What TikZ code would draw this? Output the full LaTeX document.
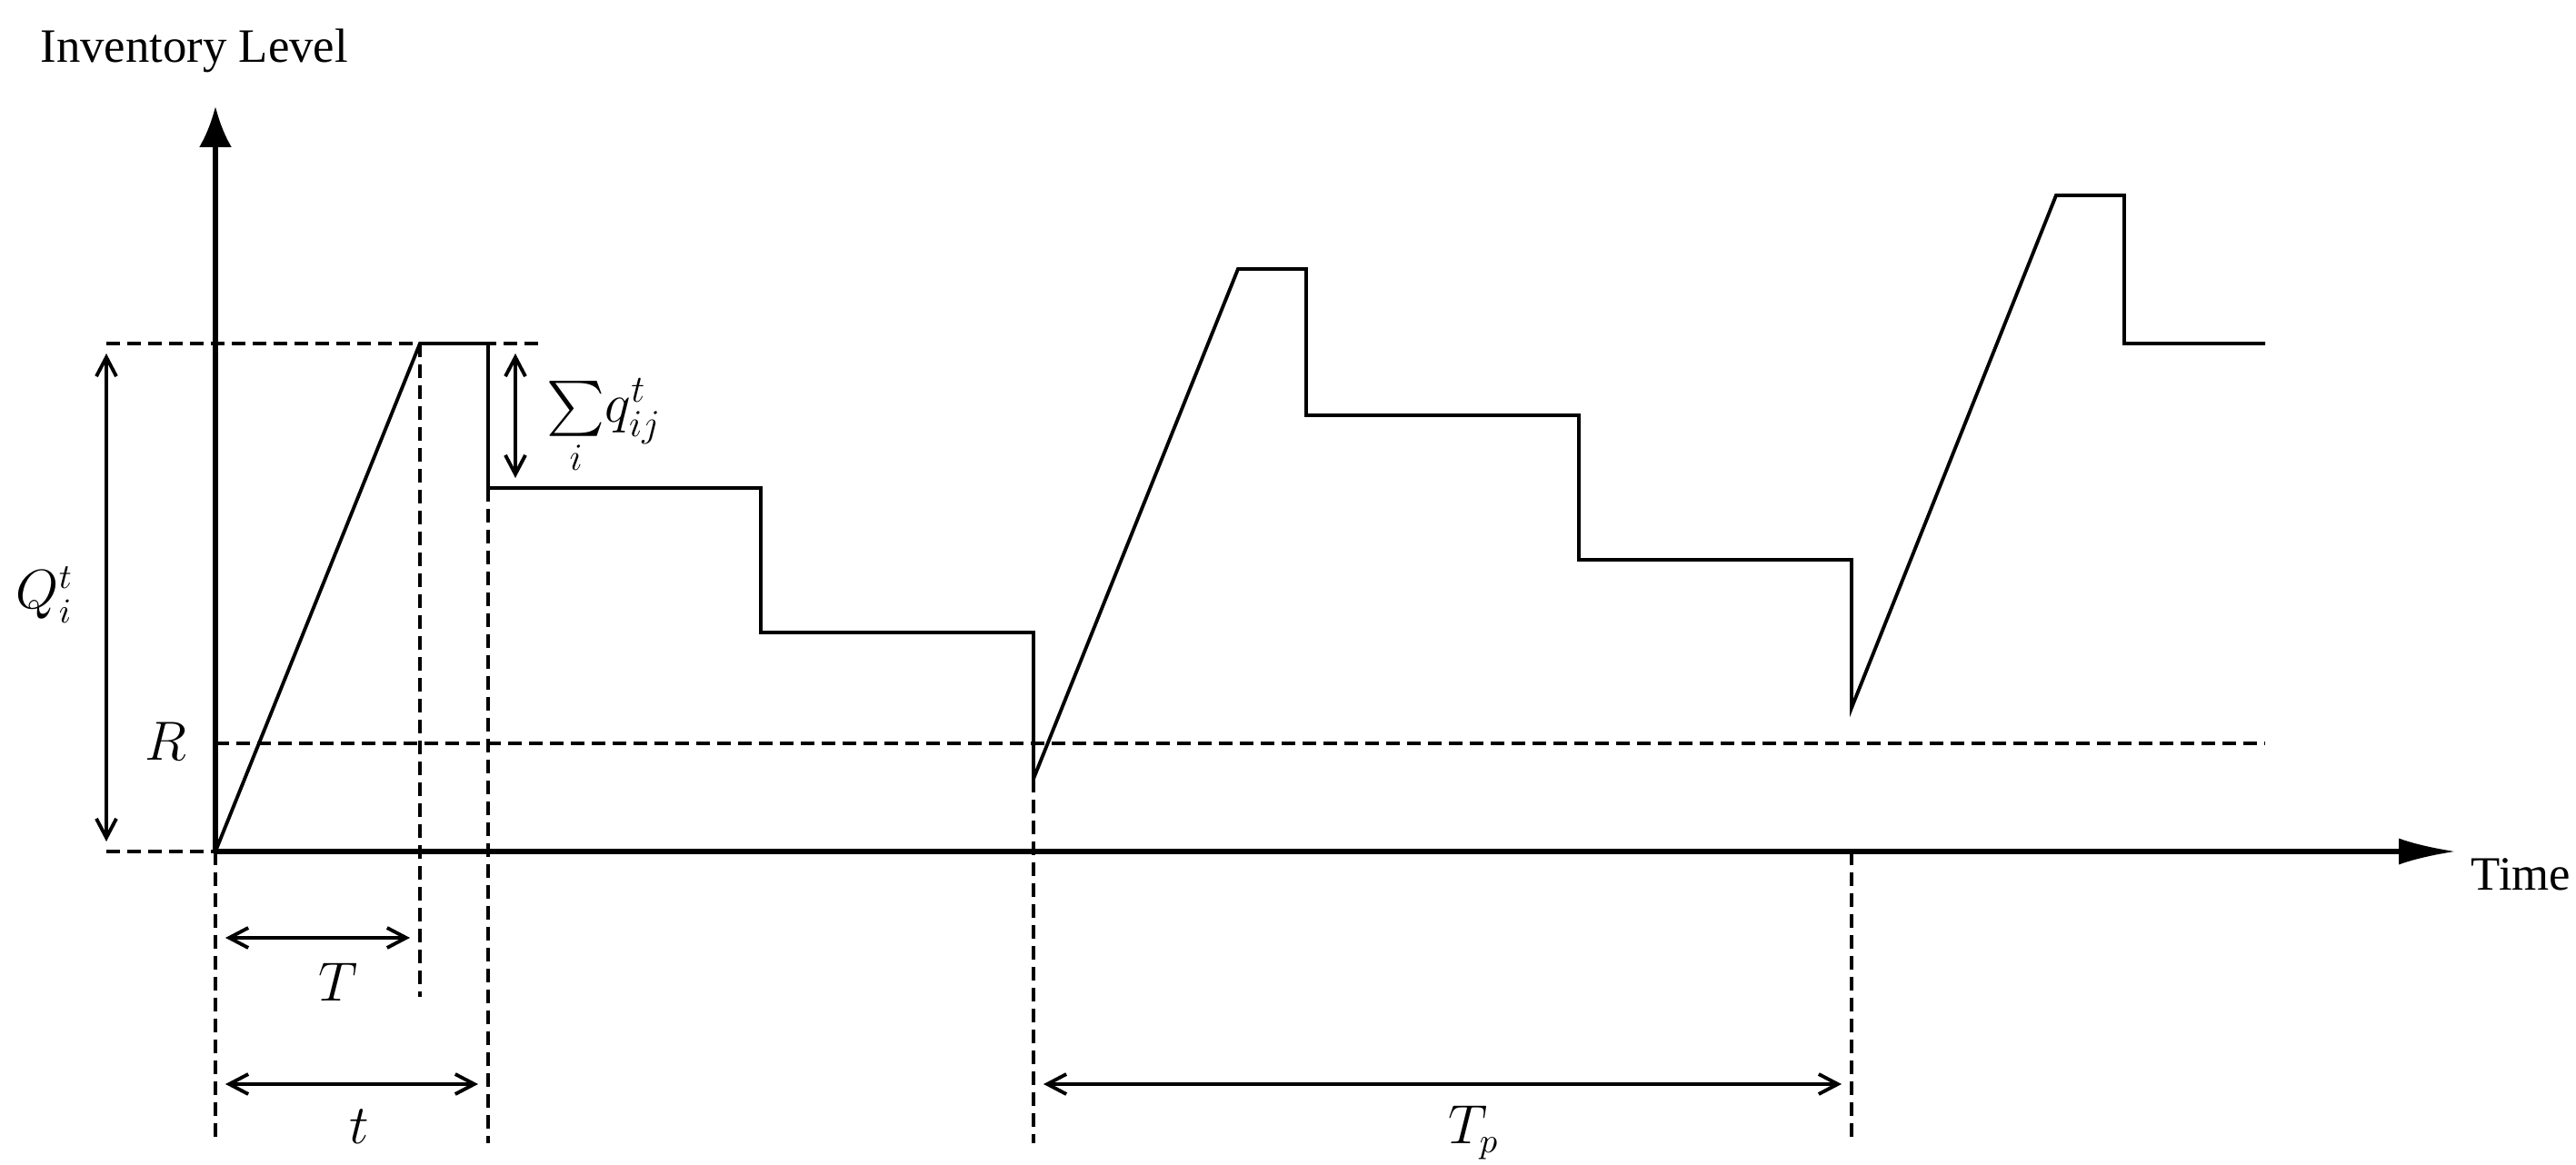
\documentclass[tikz,border=0pt]{standalone}
\usepackage{amsmath}
\usepackage{fontspec}
\setmainfont{Liberation Serif}
\usetikzlibrary{arrows.meta}

\begin{document}
\begin{tikzpicture}[
    axis/.style={line width=1.5pt},
    level/.style={line width=1.1pt, line join=miter},
    guide/.style={line width=1.1pt, dash pattern=on 0.15cm off 0.08cm},
    span/.style={line width=1.1pt, {Straight Barb[length=0.21cm,width=0.22cm]}-{Straight Barb[length=0.21cm,width=0.22cm]},
      shorten <=0.11cm, shorten >=0.11cm},
    lbl/.style={inner sep=0pt, font=\fontsize{16}{19}\selectfont},
    txt/.style={inner sep=0pt, font=\fontsize{15}{18}\selectfont}
  ]
  \useasboundingbox (-2.37,-3.45) rectangle (25.97,9.37);

  % helper points
  \coordinate (O)     at (0,0);
  \coordinate (Qhi)   at (-1.20,5.59);
  \coordinate (Qlo)   at (-1.20,0);
  \coordinate (top1)  at (2.25,5.59);
  \coordinate (drop1) at (3,5.59);
  \coordinate (step1) at (3,4.00);
  \coordinate (low1)  at (9,0.80);
  \coordinate (ord2)  at (18,0);

  % guide lines
  \draw[guide] (Qhi) -- (3.61,5.59);
  \draw[guide] (Qlo) -- (O);
  \draw[guide] (0,1.19) -- (22.55,1.19);
  \draw[guide] (O) -- (0,-3.21);
  \draw[guide] (top1) -- (2.25,-1.60);
  \draw[guide] (step1) -- (3,-3.21);
  \draw[guide] (low1) -- (9,-3.21);
  \draw[guide] (ord2) -- (18,-3.21);

  % inventory curve
  \draw[level] (O) -- (top1) -- (drop1) -- (step1) -- (6,4.00) -- (6,2.41) -- (9,2.41) -- (low1)
    -- (11.25,6.41) -- (12,6.41) -- (12,4.80) -- (15,4.80) -- (15,3.21) -- (18,3.21) -- (18,1.58)
    -- (20.25,7.22) -- (21,7.22) -- (21,5.59) -- (22.55,5.59);

  % axes
  \draw[axis, -{Latex[length=0.45cm,width=0.36cm]}] (O) -- (0,8.20);
  \draw[axis, -{Latex[length=0.63cm,width=0.29cm]}] (O) -- (24.65,0);
  \node[txt, anchor=base west] (ylabel) at (-1.93,8.68) {Inventory Level};
  \node[txt, anchor=base west] (xlabel) at (24.81,-0.43) {Time};

  % spans
  \coordinate (Shi) at (3.30,5.59);
  \coordinate (Slo) at (3.30,4.00);
  \coordinate (Ta)  at (0,-0.95);
  \coordinate (Tb)  at (2.25,-0.95);
  \coordinate (ta)  at (0,-2.56);
  \coordinate (tb)  at (3,-2.56);
  \coordinate (Pa)  at (9,-2.56);
  \coordinate (Pb)  at (18,-2.56);
  \draw[span] (Qhi) -- (Qlo);
  \draw[span] (Shi) -- (Slo);
  \draw[span] (Ta) -- (Tb);
  \draw[span] (ta) -- (tb);
  \draw[span] (Pa) -- (Pb);

  \node[lbl, anchor=base west] (Qlab)   at (-2.20,2.67) {$Q_i^t$};
  \node[lbl, anchor=base]      (Rlab)   at (-0.55,1.00) {$R$};
  \node[lbl, anchor=base west, font=\fontsize{17}{20}\selectfont] (sumlab) at (3.64,4.72) {$\sum\limits_i\! q_{ij}^t$};
  \node[lbl, anchor=base]      (Tlab)   at (1.35,-1.65) {$T$};
  \node[lbl, anchor=base]      (tlab)   at (1.58,-3.22) {$t$};
  \node[lbl, anchor=base]      (Tplab)  at (13.84,-3.22) {$T_p$};
\end{tikzpicture}
\end{document}
